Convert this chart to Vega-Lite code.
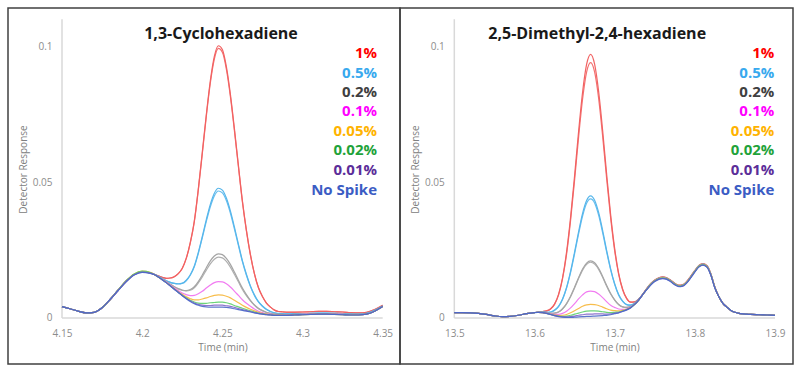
{
"$schema": "https://vega.github.io/schema/vega-lite/v6.json",
"padding": {"left": 7, "top": 7, "right": 8, "bottom": 8},
"background": "white",
"spacing": 0,
"bounds": "flush",
"config": {
  "view": {"stroke": "#404040", "strokeWidth": 1.5},
  "font": "Open Sans",
  "axis": {"labelFont": "Open Sans", "labelFontSize": 10, "labelColor": "#8c8c8c", "titleFont": "Open Sans", "titleFontSize": 10, "titleFontWeight": "normal", "titleColor": "#808080", "domain": false, "ticks": false, "grid": false, "labelPadding": 10, "labelFlush": false}
},
"datasets": {
"L": [
{"t":4.15,"r1":0.0042,"r2":0.0042,"c1":0.0042,"c2":0.0042,"g1":0.0042,"g2":0.0042,"m":0.0042,"o":0.0042,"n":0.0042,"p":0.0042,"b":0.0042},
{"t":4.155,"r1":0.0034,"r2":0.0034,"c1":0.0034,"c2":0.0034,"g1":0.0034,"g2":0.0034,"m":0.0034,"o":0.0034,"n":0.0034,"p":0.0034,"b":0.0034},
{"t":4.16,"r1":0.0025,"r2":0.0025,"c1":0.0025,"c2":0.0025,"g1":0.0025,"g2":0.0025,"m":0.0025,"o":0.0025,"n":0.0025,"p":0.0025,"b":0.0025},
{"t":4.165,"r1":0.0019,"r2":0.0019,"c1":0.0019,"c2":0.0019,"g1":0.0019,"g2":0.0019,"m":0.0019,"o":0.0019,"n":0.0019,"p":0.0019,"b":0.0019},
{"t":4.17,"r1":0.0021,"r2":0.0021,"c1":0.0021,"c2":0.0021,"g1":0.0021,"g2":0.0021,"m":0.0021,"o":0.0021,"n":0.0021,"p":0.0021,"b":0.0021},
{"t":4.175,"r1":0.0038,"r2":0.0038,"c1":0.0038,"c2":0.0038,"g1":0.0038,"g2":0.0038,"m":0.0038,"o":0.0038,"n":0.0038,"p":0.0038,"b":0.0038},
{"t":4.18,"r1":0.0068,"r2":0.0068,"c1":0.0068,"c2":0.0068,"g1":0.0068,"g2":0.0068,"m":0.0068,"o":0.0068,"n":0.0068,"p":0.0068,"b":0.0068},
{"t":4.185,"r1":0.0102,"r2":0.0102,"c1":0.0102,"c2":0.0102,"g1":0.0102,"g2":0.0102,"m":0.0102,"o":0.0103,"n":0.0103,"p":0.0102,"b":0.0101},
{"t":4.19,"r1":0.0135,"r2":0.0135,"c1":0.0135,"c2":0.0135,"g1":0.0135,"g2":0.0135,"m":0.0135,"o":0.0137,"n":0.0137,"p":0.0135,"b":0.0133},
{"t":4.195,"r1":0.016,"r2":0.016,"c1":0.016,"c2":0.016,"g1":0.016,"g2":0.016,"m":0.016,"o":0.0162,"n":0.0162,"p":0.0159,"b":0.0158},
{"t":4.2,"r1":0.017,"r2":0.017,"c1":0.017,"c2":0.017,"g1":0.017,"g2":0.017,"m":0.017,"o":0.0172,"n":0.0172,"p":0.0169,"b":0.0168},
{"t":4.205,"r1":0.0166,"r2":0.0166,"c1":0.0166,"c2":0.0166,"g1":0.0166,"g2":0.0166,"m":0.0166,"o":0.0168,"n":0.0167,"p":0.0165,"b":0.0164},
{"t":4.2075,"r1":0.0161,"r2":0.0161,"c1":0.0161,"c2":0.0161,"g1":0.016,"g2":0.016,"m":0.016,"o":0.016,"n":0.016,"p":0.016,"b":0.016},
{"t":4.21,"r1":0.0155,"r2":0.0155,"c1":0.0153,"c2":0.0153,"g1":0.0152,"g2":0.0152,"m":0.0151,"o":0.0151,"n":0.0151,"p":0.0151,"b":0.0151},
{"t":4.2125,"r1":0.015,"r2":0.015,"c1":0.0145,"c2":0.0145,"g1":0.0143,"g2":0.0143,"m":0.0142,"o":0.0141,"n":0.0141,"p":0.0141,"b":0.0141},
{"t":4.215,"r1":0.0146,"r2":0.0146,"c1":0.0137,"c2":0.0137,"g1":0.0133,"g2":0.0133,"m":0.0132,"o":0.0131,"n":0.013,"p":0.013,"b":0.013},
{"t":4.2175,"r1":0.0147,"r2":0.0147,"c1":0.0131,"c2":0.0131,"g1":0.0124,"g2":0.0124,"m":0.0121,"o":0.0119,"n":0.0119,"p":0.0118,"b":0.0118},
{"t":4.22,"r1":0.0152,"r2":0.0152,"c1":0.0127,"c2":0.0127,"g1":0.0115,"g2":0.0115,"m":0.0111,"o":0.0108,"n":0.0107,"p":0.0106,"b":0.0106},
{"t":4.2225,"r1":0.0163,"r2":0.0163,"c1":0.0126,"c2":0.0125,"g1":0.0108,"g2":0.0107,"m":0.0101,"o":0.0097,"n":0.0095,"p":0.0095,"b":0.0094},
{"t":4.225,"r1":0.0183,"r2":0.0182,"c1":0.0128,"c2":0.0127,"g1":0.0103,"g2":0.0101,"m":0.0092,"o":0.0087,"n":0.0084,"p":0.0083,"b":0.0082},
{"t":4.2275,"r1":0.022,"r2":0.0219,"c1":0.0139,"c2":0.0137,"g1":0.0101,"g2":0.01,"m":0.0086,"o":0.0078,"n":0.0074,"p":0.0072,"b":0.0071},
{"t":4.23,"r1":0.0278,"r2":0.0275,"c1":0.0159,"c2":0.0157,"g1":0.0105,"g2":0.0102,"m":0.0082,"o":0.0071,"n":0.0065,"p":0.0063,"b":0.0061},
{"t":4.2325,"r1":0.0356,"r2":0.0353,"c1":0.0191,"c2":0.0188,"g1":0.0115,"g2":0.0111,"m":0.0083,"o":0.0067,"n":0.0059,"p":0.0055,"b":0.0053},
{"t":4.235,"r1":0.0474,"r2":0.047,"c1":0.0241,"c2":0.0237,"g1":0.0134,"g2":0.0129,"m":0.0089,"o":0.0067,"n":0.0055,"p":0.005,"b":0.0047},
{"t":4.2375,"r1":0.061,"r2":0.0604,"c1":0.03,"c2":0.0295,"g1":0.0158,"g2":0.0151,"m":0.0098,"o":0.007,"n":0.0054,"p":0.0047,"b":0.0043},
{"t":4.24,"r1":0.0748,"r2":0.0741,"c1":0.0362,"c2":0.0355,"g1":0.0185,"g2":0.0176,"m":0.011,"o":0.0074,"n":0.0054,"p":0.0046,"b":0.0041},
{"t":4.2425,"r1":0.0872,"r2":0.0864,"c1":0.0418,"c2":0.0409,"g1":0.021,"g2":0.0199,"m":0.0121,"o":0.0079,"n":0.0056,"p":0.0046,"b":0.004},
{"t":4.245,"r1":0.0962,"r2":0.0952,"c1":0.0459,"c2":0.0449,"g1":0.0228,"g2":0.0216,"m":0.013,"o":0.0083,"n":0.0057,"p":0.0047,"b":0.004},
{"t":4.2475,"r1":0.1001,"r2":0.0991,"c1":0.0477,"c2":0.0467,"g1":0.0236,"g2":0.0224,"m":0.0134,"o":0.0085,"n":0.0058,"p":0.0047,"b":0.004},
{"t":4.25,"r1":0.0987,"r2":0.0977,"c1":0.047,"c2":0.046,"g1":0.0233,"g2":0.0221,"m":0.0133,"o":0.0084,"n":0.0058,"p":0.0047,"b":0.004},
{"t":4.2525,"r1":0.0924,"r2":0.0915,"c1":0.0441,"c2":0.0432,"g1":0.0219,"g2":0.0208,"m":0.0126,"o":0.008,"n":0.0056,"p":0.0045,"b":0.0039},
{"t":4.255,"r1":0.0823,"r2":0.0815,"c1":0.0394,"c2":0.0386,"g1":0.0197,"g2":0.0187,"m":0.0114,"o":0.0074,"n":0.0052,"p":0.0043,"b":0.0037},
{"t":4.2575,"r1":0.0697,"r2":0.069,"c1":0.0335,"c2":0.0328,"g1":0.0169,"g2":0.0161,"m":0.0099,"o":0.0065,"n":0.0046,"p":0.0039,"b":0.0034},
{"t":4.26,"r1":0.0562,"r2":0.0557,"c1":0.0272,"c2":0.0267,"g1":0.0139,"g2":0.0133,"m":0.0083,"o":0.0056,"n":0.0041,"p":0.0035,"b":0.0031},
{"t":4.2625,"r1":0.0431,"r2":0.0427,"c1":0.0211,"c2":0.0207,"g1":0.011,"g2":0.0105,"m":0.0067,"o":0.0047,"n":0.0036,"p":0.0031,"b":0.0028},
{"t":4.265,"r1":0.0323,"r2":0.032,"c1":0.0161,"c2":0.0157,"g1":0.0086,"g2":0.0082,"m":0.0054,"o":0.0039,"n":0.0031,"p":0.0027,"b":0.0025},
{"t":4.2675,"r1":0.0234,"r2":0.0231,"c1":0.0118,"c2":0.0116,"g1":0.0065,"g2":0.0063,"m":0.0043,"o":0.0032,"n":0.0026,"p":0.0024,"b":0.0022},
{"t":4.27,"r1":0.0163,"r2":0.0162,"c1":0.0085,"c2":0.0083,"g1":0.0048,"g2":0.0047,"m":0.0033,"o":0.0026,"n":0.0022,"p":0.002,"b":0.0019},
{"t":4.2725,"r1":0.0112,"r2":0.0111,"c1":0.006,"c2":0.0059,"g1":0.0036,"g2":0.0034,"m":0.0025,"o":0.0021,"n":0.0018,"p":0.0017,"b":0.0016},
{"t":4.275,"r1":0.0079,"r2":0.0079,"c1":0.0044,"c2":0.0043,"g1":0.0027,"g2":0.0027,"m":0.002,"o":0.0017,"n":0.0015,"p":0.0014,"b":0.0014},
{"t":4.2775,"r1":0.0055,"r2":0.0055,"c1":0.0032,"c2":0.0031,"g1":0.0021,"g2":0.002,"m":0.0016,"o":0.0014,"n":0.0013,"p":0.0012,"b":0.0012},
{"t":4.28,"r1":0.004,"r2":0.004,"c1":0.0024,"c2":0.0024,"g1":0.0017,"g2":0.0017,"m":0.0014,"o":0.0012,"n":0.0012,"p":0.0011,"b":0.0011},
{"t":4.2825,"r1":0.0029,"r2":0.0029,"c1":0.0019,"c2":0.0019,"g1":0.0014,"g2":0.0014,"m":0.0012,"o":0.0011,"n":0.001,"p":0.001,"b":0.001},
{"t":4.285,"r1":0.0024,"r2":0.0024,"c1":0.0017,"c2":0.0016,"g1":0.0013,"g2":0.0013,"m":0.0011,"o":0.0011,"n":0.001,"p":0.001,"b":0.001},
{"t":4.2875,"r1":0.0023,"r2":0.0022,"c1":0.0016,"c2":0.0016,"g1":0.0013,"g2":0.0012,"m":0.0011,"o":0.001,"n":0.001,"p":0.001,"b":0.001},
{"t":4.29,"r1":0.0022,"r2":0.0021,"c1":0.0015,"c2":0.0015,"g1":0.0012,"g2":0.0012,"m":0.0011,"o":0.001,"n":0.001,"p":0.001,"b":0.001},
{"t":4.295,"r1":0.0022,"r2":0.0021,"c1":0.0016,"c2":0.0016,"g1":0.0013,"g2":0.0013,"m":0.0012,"o":0.0011,"n":0.0011,"p":0.0011,"b":0.0011},
{"t":4.3,"r1":0.0022,"r2":0.0022,"c1":0.0016,"c2":0.0016,"g1":0.0014,"g2":0.0014,"m":0.0013,"o":0.0012,"n":0.0012,"p":0.0012,"b":0.0012},
{"t":4.305,"r1":0.0023,"r2":0.0023,"c1":0.0017,"c2":0.0017,"g1":0.0015,"g2":0.0015,"m":0.0014,"o":0.0013,"n":0.0013,"p":0.0013,"b":0.0013},
{"t":4.31,"r1":0.0024,"r2":0.0024,"c1":0.0018,"c2":0.0018,"g1":0.0016,"g2":0.0016,"m":0.0015,"o":0.0014,"n":0.0014,"p":0.0014,"b":0.0014},
{"t":4.315,"r1":0.0024,"r2":0.0024,"c1":0.0018,"c2":0.0018,"g1":0.0016,"g2":0.0016,"m":0.0015,"o":0.0014,"n":0.0014,"p":0.0014,"b":0.0014},
{"t":4.32,"r1":0.0023,"r2":0.0023,"c1":0.0017,"c2":0.0017,"g1":0.0015,"g2":0.0015,"m":0.0014,"o":0.0013,"n":0.0013,"p":0.0013,"b":0.0013},
{"t":4.325,"r1":0.0022,"r2":0.0022,"c1":0.0016,"c2":0.0016,"g1":0.0014,"g2":0.0014,"m":0.0013,"o":0.0012,"n":0.0012,"p":0.0012,"b":0.0012},
{"t":4.33,"r1":0.002,"r2":0.002,"c1":0.0015,"c2":0.0015,"g1":0.0013,"g2":0.0013,"m":0.0012,"o":0.0011,"n":0.0011,"p":0.0011,"b":0.0011},
{"t":4.335,"r1":0.0019,"r2":0.0019,"c1":0.0014,"c2":0.0014,"g1":0.0013,"g2":0.0013,"m":0.0012,"o":0.0011,"n":0.0011,"p":0.0011,"b":0.0011},
{"t":4.34,"r1":0.0021,"r2":0.0021,"c1":0.0017,"c2":0.0017,"g1":0.0015,"g2":0.0015,"m":0.0014,"o":0.0014,"n":0.0014,"p":0.0014,"b":0.0014},
{"t":4.345,"r1":0.0031,"r2":0.0031,"c1":0.0028,"c2":0.0028,"g1":0.0026,"g2":0.0026,"m":0.0025,"o":0.0025,"n":0.0025,"p":0.0025,"b":0.0025},
{"t":4.35,"r1":0.0047,"r2":0.0047,"c1":0.0044,"c2":0.0044,"g1":0.0043,"g2":0.0043,"m":0.0042,"o":0.0042,"n":0.0042,"p":0.0042,"b":0.0042}
],
"R": [
{"t":13.5,"r1":0.002,"r2":0.002,"c1":0.002,"c2":0.002,"g1":0.002,"g2":0.002,"m":0.002,"o":0.002,"n":0.002,"p":0.002,"b":0.002},
{"t":13.51,"r1":0.002,"r2":0.002,"c1":0.002,"c2":0.002,"g1":0.002,"g2":0.002,"m":0.002,"o":0.002,"n":0.002,"p":0.002,"b":0.002},
{"t":13.52,"r1":0.0019,"r2":0.0019,"c1":0.0019,"c2":0.0019,"g1":0.0019,"g2":0.0019,"m":0.0019,"o":0.0019,"n":0.0019,"p":0.0019,"b":0.0019},
{"t":13.53,"r1":0.0017,"r2":0.0017,"c1":0.0017,"c2":0.0017,"g1":0.0017,"g2":0.0017,"m":0.0017,"o":0.0017,"n":0.0017,"p":0.0017,"b":0.0017},
{"t":13.54,"r1":0.0013,"r2":0.0013,"c1":0.0013,"c2":0.0013,"g1":0.0013,"g2":0.0013,"m":0.0013,"o":0.0013,"n":0.0013,"p":0.0013,"b":0.0013},
{"t":13.55,"r1":0.0008,"r2":0.0008,"c1":0.0008,"c2":0.0008,"g1":0.0008,"g2":0.0008,"m":0.0008,"o":0.0008,"n":0.0008,"p":0.0008,"b":0.0008},
{"t":13.56,"r1":0.0005,"r2":0.0005,"c1":0.0005,"c2":0.0005,"g1":0.0005,"g2":0.0005,"m":0.0005,"o":0.0005,"n":0.0005,"p":0.0005,"b":0.0005},
{"t":13.57,"r1":0.0006,"r2":0.0006,"c1":0.0006,"c2":0.0006,"g1":0.0006,"g2":0.0006,"m":0.0006,"o":0.0006,"n":0.0006,"p":0.0006,"b":0.0006},
{"t":13.58,"r1":0.001,"r2":0.001,"c1":0.001,"c2":0.001,"g1":0.001,"g2":0.001,"m":0.001,"o":0.001,"n":0.001,"p":0.001,"b":0.001},
{"t":13.59,"r1":0.0016,"r2":0.0016,"c1":0.0016,"c2":0.0016,"g1":0.0016,"g2":0.0016,"m":0.0016,"o":0.0016,"n":0.0016,"p":0.0016,"b":0.0016},
{"t":13.6,"r1":0.002,"r2":0.002,"c1":0.002,"c2":0.002,"g1":0.002,"g2":0.002,"m":0.002,"o":0.002,"n":0.002,"p":0.002,"b":0.002},
{"t":13.605,"r1":0.0022,"r2":0.0022,"c1":0.0021,"c2":0.0021,"g1":0.0021,"g2":0.0021,"m":0.0021,"o":0.0021,"n":0.0021,"p":0.0021,"b":0.0021},
{"t":13.61,"r1":0.0024,"r2":0.0024,"c1":0.0022,"c2":0.0022,"g1":0.0021,"g2":0.0021,"m":0.002,"o":0.002,"n":0.002,"p":0.002,"b":0.002},
{"t":13.615,"r1":0.0026,"r2":0.0026,"c1":0.0021,"c2":0.0021,"g1":0.0019,"g2":0.0019,"m":0.0018,"o":0.0017,"n":0.0017,"p":0.0017,"b":0.0017},
{"t":13.62,"r1":0.0033,"r2":0.0033,"c1":0.0022,"c2":0.0022,"g1":0.0017,"g2":0.0017,"m":0.0015,"o":0.0014,"n":0.0013,"p":0.0013,"b":0.0013},
{"t":13.625,"r1":0.0051,"r2":0.005,"c1":0.0029,"c2":0.0028,"g1":0.0018,"g2":0.0018,"m":0.0013,"o":0.0011,"n":0.001,"p":0.0009,"b":0.0009},
{"t":13.63,"r1":0.0087,"r2":0.0084,"c1":0.0043,"c2":0.0042,"g1":0.0022,"g2":0.0022,"m":0.0013,"o":0.0009,"n":0.0007,"p":0.0006,"b":0.0005},
{"t":13.635,"r1":0.0148,"r2":0.0144,"c1":0.007,"c2":0.0068,"g1":0.0034,"g2":0.0033,"m":0.0017,"o":0.001,"n":0.0006,"p":0.0004,"b":0.0003},
{"t":13.64,"r1":0.0242,"r2":0.0234,"c1":0.0112,"c2":0.011,"g1":0.0053,"g2":0.0052,"m":0.0025,"o":0.0013,"n":0.0007,"p":0.0004,"b":0.0002},
{"t":13.645,"r1":0.0369,"r2":0.0358,"c1":0.0171,"c2":0.0167,"g1":0.008,"g2":0.0078,"m":0.0037,"o":0.0019,"n":0.001,"p":0.0005,"b":0.0002},
{"t":13.65,"r1":0.0522,"r2":0.0506,"c1":0.0242,"c2":0.0236,"g1":0.0113,"g2":0.011,"m":0.0053,"o":0.0027,"n":0.0014,"p":0.0007,"b":0.0003},
{"t":13.655,"r1":0.0685,"r2":0.0664,"c1":0.0317,"c2":0.0309,"g1":0.0148,"g2":0.0145,"m":0.007,"o":0.0035,"n":0.0018,"p":0.001,"b":0.0004},
{"t":13.66,"r1":0.083,"r2":0.0805,"c1":0.0385,"c2":0.0375,"g1":0.018,"g2":0.0176,"m":0.0085,"o":0.0043,"n":0.0022,"p":0.0012,"b":0.0005},
{"t":13.665,"r1":0.0932,"r2":0.0904,"c1":0.0432,"c2":0.0422,"g1":0.0202,"g2":0.0197,"m":0.0096,"o":0.0048,"n":0.0025,"p":0.0014,"b":0.0006},
{"t":13.67,"r1":0.0969,"r2":0.0939,"c1":0.0449,"c2":0.0438,"g1":0.021,"g2":0.0205,"m":0.0099,"o":0.005,"n":0.0026,"p":0.0014,"b":0.0006},
{"t":13.675,"r1":0.0933,"r2":0.0905,"c1":0.0433,"c2":0.0423,"g1":0.0203,"g2":0.0198,"m":0.0097,"o":0.0049,"n":0.0026,"p":0.0015,"b":0.0007},
{"t":13.68,"r1":0.0833,"r2":0.0808,"c1":0.0388,"c2":0.0378,"g1":0.0183,"g2":0.0179,"m":0.0088,"o":0.0046,"n":0.0025,"p":0.0015,"b":0.0008},
{"t":13.685,"r1":0.069,"r2":0.0669,"c1":0.0322,"c2":0.0314,"g1":0.0153,"g2":0.015,"m":0.0075,"o":0.004,"n":0.0023,"p":0.0015,"b":0.0009},
{"t":13.69,"r1":0.0529,"r2":0.0513,"c1":0.0249,"c2":0.0243,"g1":0.012,"g2":0.0117,"m":0.006,"o":0.0034,"n":0.0021,"p":0.0014,"b":0.001},
{"t":13.695,"r1":0.0379,"r2":0.0368,"c1":0.0181,"c2":0.0177,"g1":0.009,"g2":0.0088,"m":0.0047,"o":0.0029,"n":0.002,"p":0.0015,"b":0.0012},
{"t":13.7,"r1":0.0256,"r2":0.0248,"c1":0.0126,"c2":0.0124,"g1":0.0067,"g2":0.0066,"m":0.0039,"o":0.0027,"n":0.0021,"p":0.0018,"b":0.0016},
{"t":13.705,"r1":0.0164,"r2":0.016,"c1":0.0086,"c2":0.0084,"g1":0.005,"g2":0.0049,"m":0.0033,"o":0.0026,"n":0.0022,"p":0.002,"b":0.0019},
{"t":13.71,"r1":0.0106,"r2":0.0103,"c1":0.0062,"c2":0.0061,"g1":0.0041,"g2":0.0041,"m":0.0032,"o":0.0028,"n":0.0026,"p":0.0025,"b":0.0024},
{"t":13.715,"r1":0.0072,"r2":0.0071,"c1":0.0049,"c2":0.0049,"g1":0.0039,"g2":0.0039,"m":0.0034,"o":0.0032,"n":0.0031,"p":0.003,"b":0.003},
{"t":13.72,"r1":0.0058,"r2":0.0058,"c1":0.0047,"c2":0.0047,"g1":0.0042,"g2":0.0042,"m":0.004,"o":0.0039,"n":0.0038,"p":0.0038,"b":0.0038},
{"t":13.725,"r1":0.0059,"r2":0.0059,"c1":0.0054,"c2":0.0054,"g1":0.0052,"g2":0.0052,"m":0.0051,"o":0.005,"n":0.005,"p":0.005,"b":0.005},
{"t":13.73,"r1":0.007,"r2":0.007,"c1":0.0068,"c2":0.0068,"g1":0.0067,"g2":0.0067,"m":0.0066,"o":0.0066,"n":0.0066,"p":0.0066,"b":0.0066},
{"t":13.735,"r1":0.0087,"r2":0.0087,"c1":0.0086,"c2":0.0086,"g1":0.0086,"g2":0.0086,"m":0.0086,"o":0.0086,"n":0.0086,"p":0.0086,"b":0.0086},
{"t":13.74,"r1":0.0108,"r2":0.0108,"c1":0.0107,"c2":0.0106,"g1":0.0106,"g2":0.0106,"m":0.0106,"o":0.0106,"n":0.0106,"p":0.0105,"b":0.0104},
{"t":13.745,"r1":0.0127,"r2":0.0126,"c1":0.0125,"c2":0.0124,"g1":0.0124,"g2":0.0124,"m":0.0124,"o":0.0124,"n":0.0124,"p":0.0122,"b":0.0121},
{"t":13.75,"r1":0.014,"r2":0.0139,"c1":0.0138,"c2":0.0137,"g1":0.0137,"g2":0.0137,"m":0.0137,"o":0.0137,"n":0.0137,"p":0.0135,"b":0.0134},
{"t":13.755,"r1":0.0148,"r2":0.0147,"c1":0.0146,"c2":0.0145,"g1":0.0145,"g2":0.0145,"m":0.0145,"o":0.0145,"n":0.0145,"p":0.0143,"b":0.0142},
{"t":13.76,"r1":0.0151,"r2":0.015,"c1":0.0149,"c2":0.0148,"g1":0.0148,"g2":0.0148,"m":0.0148,"o":0.0148,"n":0.0148,"p":0.0146,"b":0.0145},
{"t":13.765,"r1":0.0148,"r2":0.0147,"c1":0.0146,"c2":0.0145,"g1":0.0145,"g2":0.0145,"m":0.0145,"o":0.0145,"n":0.0145,"p":0.0143,"b":0.0142},
{"t":13.77,"r1":0.0139,"r2":0.0138,"c1":0.0137,"c2":0.0136,"g1":0.0136,"g2":0.0136,"m":0.0136,"o":0.0136,"n":0.0136,"p":0.0134,"b":0.0133},
{"t":13.775,"r1":0.0128,"r2":0.0127,"c1":0.0126,"c2":0.0125,"g1":0.0125,"g2":0.0125,"m":0.0123,"o":0.0125,"n":0.0125,"p":0.0123,"b":0.0122},
{"t":13.78,"r1":0.0121,"r2":0.012,"c1":0.0119,"c2":0.0118,"g1":0.0118,"g2":0.0118,"m":0.0116,"o":0.0118,"n":0.0118,"p":0.0116,"b":0.0115},
{"t":13.785,"r1":0.0123,"r2":0.0122,"c1":0.0121,"c2":0.012,"g1":0.012,"g2":0.012,"m":0.0118,"o":0.012,"n":0.012,"p":0.0118,"b":0.0117},
{"t":13.79,"r1":0.0135,"r2":0.0134,"c1":0.0133,"c2":0.0132,"g1":0.0132,"g2":0.0132,"m":0.0132,"o":0.0132,"n":0.0132,"p":0.013,"b":0.0129},
{"t":13.795,"r1":0.0154,"r2":0.0153,"c1":0.0152,"c2":0.0151,"g1":0.0151,"g2":0.0151,"m":0.0151,"o":0.0151,"n":0.0151,"p":0.0149,"b":0.0148},
{"t":13.8,"r1":0.0175,"r2":0.0174,"c1":0.0173,"c2":0.0172,"g1":0.0172,"g2":0.0172,"m":0.0172,"o":0.0172,"n":0.0172,"p":0.017,"b":0.0169},
{"t":13.805,"r1":0.0193,"r2":0.0192,"c1":0.0191,"c2":0.019,"g1":0.019,"g2":0.019,"m":0.019,"o":0.019,"n":0.019,"p":0.0188,"b":0.0187},
{"t":13.81,"r1":0.02,"r2":0.0199,"c1":0.0198,"c2":0.0197,"g1":0.0197,"g2":0.0197,"m":0.0197,"o":0.0197,"n":0.0197,"p":0.0195,"b":0.0194},
{"t":13.815,"r1":0.0193,"r2":0.0192,"c1":0.0191,"c2":0.019,"g1":0.019,"g2":0.019,"m":0.019,"o":0.019,"n":0.019,"p":0.0188,"b":0.0187},
{"t":13.82,"r1":0.0163,"r2":0.0162,"c1":0.0161,"c2":0.016,"g1":0.016,"g2":0.016,"m":0.016,"o":0.016,"n":0.016,"p":0.0158,"b":0.0157},
{"t":13.825,"r1":0.0114,"r2":0.0113,"c1":0.0112,"c2":0.0112,"g1":0.0112,"g2":0.0112,"m":0.0112,"o":0.0112,"n":0.0112,"p":0.0111,"b":0.011},
{"t":13.83,"r1":0.0078,"r2":0.0078,"c1":0.0078,"c2":0.0078,"g1":0.0078,"g2":0.0078,"m":0.0078,"o":0.0078,"n":0.0078,"p":0.0078,"b":0.0078},
{"t":13.835,"r1":0.0054,"r2":0.0054,"c1":0.0054,"c2":0.0054,"g1":0.0054,"g2":0.0054,"m":0.0054,"o":0.0054,"n":0.0054,"p":0.0054,"b":0.0054},
{"t":13.84,"r1":0.004,"r2":0.004,"c1":0.004,"c2":0.004,"g1":0.004,"g2":0.004,"m":0.004,"o":0.004,"n":0.004,"p":0.004,"b":0.004},
{"t":13.845,"r1":0.0028,"r2":0.0028,"c1":0.0028,"c2":0.0028,"g1":0.0028,"g2":0.0028,"m":0.0028,"o":0.0028,"n":0.0028,"p":0.0028,"b":0.0028},
{"t":13.85,"r1":0.0021,"r2":0.0021,"c1":0.0021,"c2":0.0021,"g1":0.0021,"g2":0.0021,"m":0.0021,"o":0.0021,"n":0.0021,"p":0.0021,"b":0.0021},
{"t":13.855,"r1":0.0017,"r2":0.0017,"c1":0.0017,"c2":0.0017,"g1":0.0017,"g2":0.0017,"m":0.0017,"o":0.0017,"n":0.0017,"p":0.0017,"b":0.0017},
{"t":13.86,"r1":0.0015,"r2":0.0015,"c1":0.0015,"c2":0.0015,"g1":0.0015,"g2":0.0015,"m":0.0015,"o":0.0015,"n":0.0015,"p":0.0015,"b":0.0015},
{"t":13.865,"r1":0.0014,"r2":0.0014,"c1":0.0014,"c2":0.0014,"g1":0.0014,"g2":0.0014,"m":0.0014,"o":0.0014,"n":0.0014,"p":0.0014,"b":0.0014},
{"t":13.87,"r1":0.0013,"r2":0.0013,"c1":0.0013,"c2":0.0013,"g1":0.0013,"g2":0.0013,"m":0.0013,"o":0.0013,"n":0.0013,"p":0.0013,"b":0.0013},
{"t":13.88,"r1":0.0012,"r2":0.0012,"c1":0.0012,"c2":0.0012,"g1":0.0012,"g2":0.0012,"m":0.0012,"o":0.0012,"n":0.0012,"p":0.0012,"b":0.0012},
{"t":13.89,"r1":0.0011,"r2":0.0011,"c1":0.0011,"c2":0.0011,"g1":0.0011,"g2":0.0011,"m":0.0011,"o":0.0011,"n":0.0011,"p":0.0011,"b":0.0011},
{"t":13.9,"r1":0.001,"r2":0.001,"c1":0.001,"c2":0.001,"g1":0.001,"g2":0.001,"m":0.001,"o":0.001,"n":0.001,"p":0.001,"b":0.001}
]
},
"hconcat": [
{
"width": 392, "height": 356,
"layer": [
{"data": {"values": [{}]}, "mark": {"type": "rule", "color": "#d9d9d9", "strokeWidth": 1.5}, "encoding": {"x": {"datum": 4.15}, "x2": {"datum": 4.35}, "y": {"datum": 0}}},
{"data": {"values": [{}]}, "mark": {"type": "rule", "color": "#d9d9d9", "strokeWidth": 1.5}, "encoding": {"x": {"datum": 4.15}, "y": {"datum": 0}, "y2": {"datum": 0.1098}}},
{"data": {"name": "L"}, "transform": [{"fold": ["r1","r2","c1","c2","g1","g2","m","o","n","p","b"], "as": ["k","y"]}],
 "mark": {"type": "line", "interpolate": "monotone", "strokeWidth": 1.2, "opacity": 0.9},
 "encoding": {
  "x": {"field": "t", "type": "quantitative", "scale": {"domain": [4.11632, 4.36079], "nice": false, "zero": false}, "axis": {"title": "Time (min)", "values": [4.15, 4.2, 4.25, 4.3, 4.35], "format": "~g", "offset": -46, "titleX": 214.5, "titlePadding": 4}},
  "y": {"field": "y", "type": "quantitative", "scale": {"domain": [-0.016912, 0.113971], "nice": false, "zero": false}, "axis": {"title": "Detector Response", "values": [0, 0.05, 0.1], "format": "~g", "offset": -54, "titleY": 161, "titlePadding": 4}},
  "color": {"field": "k", "type": "nominal", "legend": null, "scale": {"domain": ["r1","r2","c1","c2","g1","g2","m","o","n","p","b"], "range": ["#f05252","#f26060","#45aee8","#55b6ec","#9a9a9a","#a6a6a6","#f06ef0","#f6b638","#5ccf6a","#8266c8","#4a67c8"]}}
 }},
{"data": {"values": [{}]}, "mark": {"type": "text", "text": "1,3-Cyclohexadiene", "align": "center", "baseline": "middle", "fontSize": 16, "fontWeight": "bold", "color": "#1a1a1a"}, "encoding": {"x": {"datum": 4.24916}, "y": {"datum": 0.10441}}},
{"data": {"values": [{}]}, "mark": {"type": "text", "text": "1%", "align": "right", "baseline": "middle", "fontSize": 15, "fontWeight": "bold", "color": "#ff0000"}, "encoding": {"x": {"datum": 4.34645}, "y": {"datum": 0.09754}}},
{"data": {"values": [{}]}, "mark": {"type": "text", "text": "0.5%", "align": "right", "baseline": "middle", "fontSize": 15, "fontWeight": "bold", "color": "#38a9ee"}, "encoding": {"x": {"datum": 4.34645}, "y": {"datum": 0.09018}}},
{"data": {"values": [{}]}, "mark": {"type": "text", "text": "0.2%", "align": "right", "baseline": "middle", "fontSize": 15, "fontWeight": "bold", "color": "#404040"}, "encoding": {"x": {"datum": 4.34645}, "y": {"datum": 0.0832}}},
{"data": {"values": [{}]}, "mark": {"type": "text", "text": "0.1%", "align": "right", "baseline": "middle", "fontSize": 15, "fontWeight": "bold", "color": "#ff00ff"}, "encoding": {"x": {"datum": 4.34645}, "y": {"datum": 0.0761}}},
{"data": {"values": [{}]}, "mark": {"type": "text", "text": "0.05%", "align": "right", "baseline": "middle", "fontSize": 15, "fontWeight": "bold", "color": "#ffb300"}, "encoding": {"x": {"datum": 4.34645}, "y": {"datum": 0.06875}}},
{"data": {"values": [{}]}, "mark": {"type": "text", "text": "0.02%", "align": "right", "baseline": "middle", "fontSize": 15, "fontWeight": "bold", "color": "#1fa33a"}, "encoding": {"x": {"datum": 4.34645}, "y": {"datum": 0.06165}}},
{"data": {"values": [{}]}, "mark": {"type": "text", "text": "0.01%", "align": "right", "baseline": "middle", "fontSize": 15, "fontWeight": "bold", "color": "#5b2d99"}, "encoding": {"x": {"datum": 4.34645}, "y": {"datum": 0.0543}}},
{"data": {"values": [{}]}, "mark": {"type": "text", "text": "No Spike", "align": "right", "baseline": "middle", "fontSize": 15, "fontWeight": "bold", "color": "#3b5cc4"}, "encoding": {"x": {"datum": 4.34645}, "y": {"datum": 0.04695}}}
]
},
{
"width": 393, "height": 356,
"layer": [
{"data": {"values": [{}]}, "mark": {"type": "rule", "color": "#d9d9d9", "strokeWidth": 1.5}, "encoding": {"x": {"datum": 13.5}, "x2": {"datum": 13.9}, "y": {"datum": 0}}},
{"data": {"values": [{}]}, "mark": {"type": "rule", "color": "#d9d9d9", "strokeWidth": 1.5}, "encoding": {"x": {"datum": 13.5}, "y": {"datum": 0}, "y2": {"datum": 0.1098}}},
{"data": {"name": "R"}, "transform": [{"fold": ["r1","r2","c1","c2","g1","g2","m","o","n","p","b"], "as": ["k","y"]}],
 "mark": {"type": "line", "interpolate": "monotone", "strokeWidth": 1.2, "opacity": 0.9},
 "encoding": {
  "x": {"field": "t", "type": "quantitative", "scale": {"domain": [13.43227, 13.92245], "nice": false, "zero": false}, "axis": {"title": "Time (min)", "values": [13.5, 13.6, 13.7, 13.8, 13.9], "format": "~g", "offset": -46, "titleX": 214.5, "titlePadding": 4}},
  "y": {"field": "y", "type": "quantitative", "scale": {"domain": [-0.016912, 0.113971], "nice": false, "zero": false}, "axis": {"title": "Detector Response", "values": [0, 0.05, 0.1], "format": "~g", "offset": -54.3, "titleY": 161, "titlePadding": 4}},
  "color": {"field": "k", "type": "nominal", "legend": null, "scale": {"domain": ["r1","r2","c1","c2","g1","g2","m","o","n","p","b"], "range": ["#f05252","#f26060","#45aee8","#55b6ec","#9a9a9a","#a6a6a6","#f06ef0","#f6b638","#5ccf6a","#8266c8","#4a67c8"]}}
 }},
{"data": {"values": [{}]}, "mark": {"type": "text", "text": "2,5-Dimethyl-2,4-hexadiene", "align": "center", "baseline": "middle", "fontSize": 16, "fontWeight": "bold", "color": "#1a1a1a"}, "encoding": {"x": {"datum": 13.6782}, "y": {"datum": 0.10441}}},
{"data": {"values": [{}]}, "mark": {"type": "text", "text": "1%", "align": "right", "baseline": "middle", "fontSize": 15, "fontWeight": "bold", "color": "#ff0000"}, "encoding": {"x": {"datum": 13.89915}, "y": {"datum": 0.09754}}},
{"data": {"values": [{}]}, "mark": {"type": "text", "text": "0.5%", "align": "right", "baseline": "middle", "fontSize": 15, "fontWeight": "bold", "color": "#38a9ee"}, "encoding": {"x": {"datum": 13.89915}, "y": {"datum": 0.09018}}},
{"data": {"values": [{}]}, "mark": {"type": "text", "text": "0.2%", "align": "right", "baseline": "middle", "fontSize": 15, "fontWeight": "bold", "color": "#404040"}, "encoding": {"x": {"datum": 13.89915}, "y": {"datum": 0.0832}}},
{"data": {"values": [{}]}, "mark": {"type": "text", "text": "0.1%", "align": "right", "baseline": "middle", "fontSize": 15, "fontWeight": "bold", "color": "#ff00ff"}, "encoding": {"x": {"datum": 13.89915}, "y": {"datum": 0.0761}}},
{"data": {"values": [{}]}, "mark": {"type": "text", "text": "0.05%", "align": "right", "baseline": "middle", "fontSize": 15, "fontWeight": "bold", "color": "#ffb300"}, "encoding": {"x": {"datum": 13.89915}, "y": {"datum": 0.06875}}},
{"data": {"values": [{}]}, "mark": {"type": "text", "text": "0.02%", "align": "right", "baseline": "middle", "fontSize": 15, "fontWeight": "bold", "color": "#1fa33a"}, "encoding": {"x": {"datum": 13.89915}, "y": {"datum": 0.06165}}},
{"data": {"values": [{}]}, "mark": {"type": "text", "text": "0.01%", "align": "right", "baseline": "middle", "fontSize": 15, "fontWeight": "bold", "color": "#5b2d99"}, "encoding": {"x": {"datum": 13.89915}, "y": {"datum": 0.0543}}},
{"data": {"values": [{}]}, "mark": {"type": "text", "text": "No Spike", "align": "right", "baseline": "middle", "fontSize": 15, "fontWeight": "bold", "color": "#3b5cc4"}, "encoding": {"x": {"datum": 13.89915}, "y": {"datum": 0.04695}}}
]
}
]
}
